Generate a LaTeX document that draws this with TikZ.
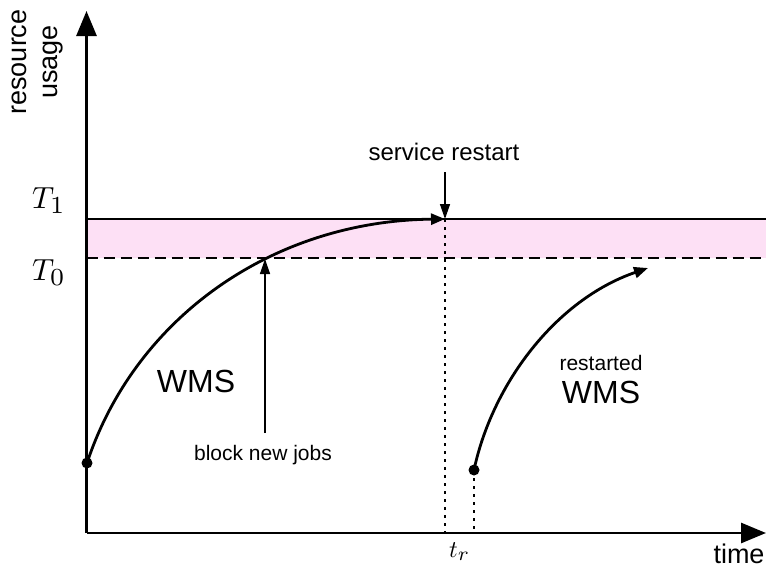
\documentclass[tikz,border=0pt]{standalone}
\usepackage{fontspec}
\setmainfont{Liberation Sans}
\usetikzlibrary{arrows.meta}
\definecolor{bandpink}{RGB}{253,224,245}
\newcommand{\bigsub}[1]{\scalebox{1.15}{$\scriptstyle #1$}}
\tikzset{
  axis/.style={line width=2.8pt,-{Triangle[length=25pt,width=20pt]}},
  curvearrow/.style={line width=2.8pt,-{Triangle[length=14pt,width=11pt]}},
  notearrow/.style={line width=1.4pt,-{Triangle[length=15pt,width=10pt]}},
  guide/.style={line width=1.1pt,dash pattern=on 3pt off 5pt},
  lbl/.style={inner sep=0pt,font=\fontsize{21}{25}\selectfont},
  biglbl/.style={inner sep=0pt,font=\fontsize{32}{36}\selectfont},
  axlbl/.style={inner sep=0pt,font=\fontsize{27}{31}\selectfont},
  mathlbl/.style={inner sep=0pt,anchor=base west},
  dot/.style={circle,fill=black,inner sep=0pt,minimum size=11pt}
}
\begin{document}
\begin{tikzpicture}[x=1pt,y=-1pt]
\useasboundingbox (0,0) rectangle (766,576);
% coordinates
\coordinate (O) at (86.5,533);
\coordinate (ytop) at (86.5,11);
\coordinate (xend) at (766,533);
\coordinate (t1l) at (86.5,219);
\coordinate (t1r) at (766,219);
\coordinate (t0l) at (86.5,258);
\coordinate (t0r) at (766,258);
\coordinate (restart) at (445,219);
\coordinate (trax) at (445,533);
\coordinate (blockpt) at (265,259);
\coordinate (blockfoot) at (265,433);
\coordinate (end2) at (648,268);
\coordinate (dot2ax) at (474,533);
% band
\fill[bandpink] (t1l) rectangle (t0r);
\draw[line width=2.4pt] (t1l) -- (t1r);
\draw[line width=2.4pt,dash pattern=on 11pt off 6pt] (t0l) -- (t0r);
% guides
\draw[guide] (restart) -- (trax);
\node[dot] (d2) at (474,470) {};
\draw[guide] (d2.center) -- (dot2ax);
% axes
\draw[axis] (O) -- (ytop);
\draw[axis] (O) -- (xend);
% curves
\node[dot] (d1) at (87,463) {};
\draw[curvearrow] (d1.center) .. controls (135,318) and (272,221) .. (restart);
\draw[curvearrow] (d2.center) .. controls (492,385) and (555,300) .. (end2);
% labels
\node[axlbl,rotate=90,align=center] (ylab) at (38,62) {resource\\usage};
\node[axlbl,anchor=base] (xlab) at (739,563) {time};
\node[mathlbl] (T1) at (32,208) {\scalebox{3.05}{$T_{\bigsub{1}}$}};
\node[mathlbl] (T0) at (32,280) {\scalebox{3.05}{$T_{\bigsub{0}}$}};
\node[mathlbl] (tr) at (449,557) {\scalebox{2.4}{$t_{\bigsub{r}}$}};
\node[lbl,font=\fontsize{24}{28}\selectfont,anchor=base] (sr) at (444,160) {service restart};
\coordinate (srstart) at (445,172);
\draw[notearrow] (srstart) -- (restart);
\node[lbl,anchor=base] (bnj) at (263,460) {block new jobs};
\draw[notearrow] (blockfoot) -- (blockpt);
\node[biglbl,anchor=base] (wms1) at (196,392) {WMS};
\node[lbl,anchor=base] (rst) at (601,370) {restarted};
\node[biglbl,anchor=base] (wms2) at (601,403) {WMS};
\end{tikzpicture}
\end{document}
